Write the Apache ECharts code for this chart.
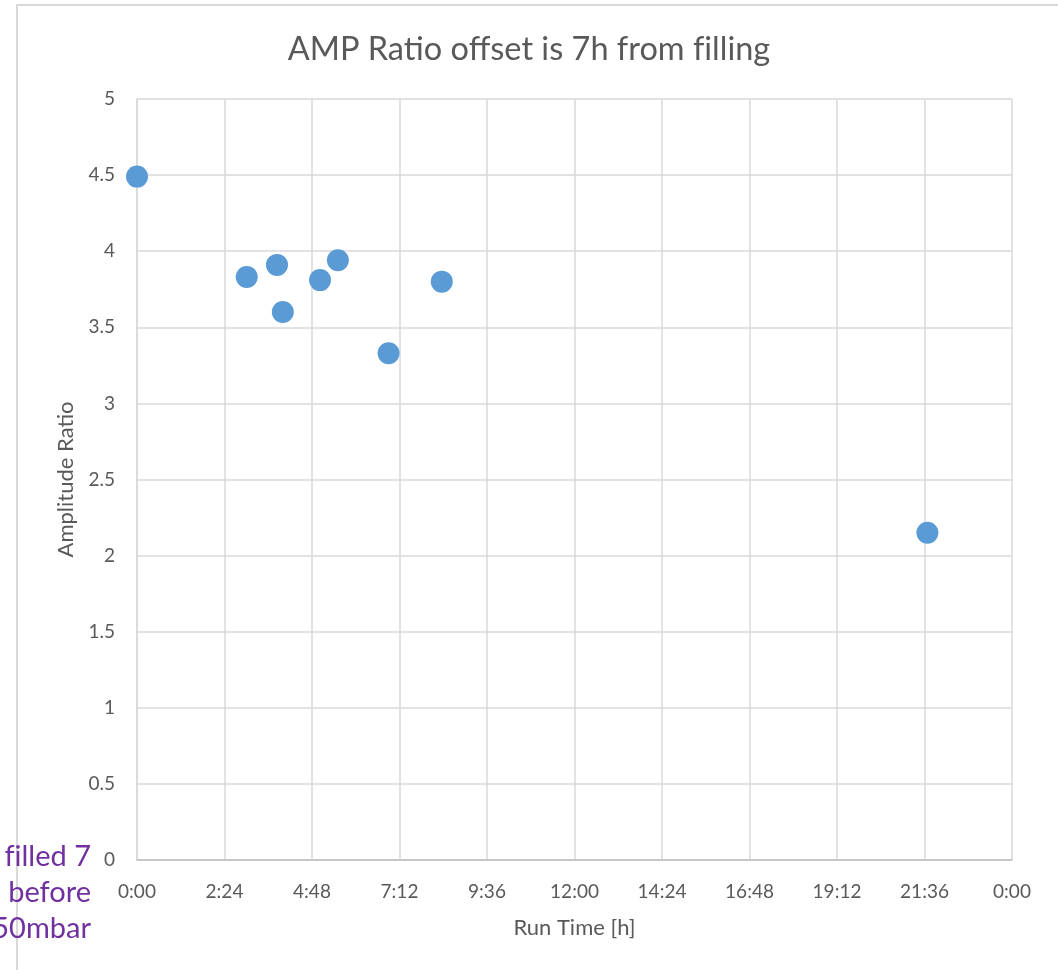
<!DOCTYPE html>
<html>
<head>
<meta charset="utf-8">
<script src="https://cdn.jsdelivr.net/npm/echarts@6/dist/echarts.min.js"></script>
<style>
html,body{margin:0;padding:0;background:#fff;}
#chart{width:1058px;height:970px;}
</style>
</head>
<body>
<div id="chart"></div>
<script>
// Run time in hours
const runTimeHours = [0, 3.01, 3.84, 4.0, 5.02, 5.51, 6.9, 8.36, 21.68];
const amplitudeRatio = [4.49, 3.83, 3.91, 3.60, 3.81, 3.94, 3.33, 3.80, 2.15];
const titleText = 'AMP Ratio offset is 7h from f\u200Cilling';
const xAxisName = 'Run Time [h]';
const yAxisName = 'Amplitude Ratio';
const noteLines = ['Gas f\u200Cilled 7', 'hours before', 'at 150mbar'];

const FONT = 'Lato, "Open Sans", sans-serif';
const chart = echarts.init(document.getElementById('chart'));

function fmtTime(v) {
  const mins = Math.round(v * 60) % (24 * 60);
  const hh = Math.floor(mins / 60);
  const mm = mins % 60;
  return hh + ':' + (mm < 10 ? '0' : '') + mm;
}

const noteGraphics = noteLines.map((line, i) => ({
  type: 'text',
  x: 91,
  y: 857 + i * 36,
  style: {
    text: line,
    align: 'right',
    verticalAlign: 'middle',
    fontFamily: FONT,
    fontSize: 29,
    fill: '#7030A0'
  }
}));

chart.setOption({
  backgroundColor: '#fff',
  animation: false,
  title: {
    text: titleText,
    left: 'center',
    top: 28,
    textStyle: { fontFamily: FONT, fontSize: 32.5, fontWeight: 'normal', color: '#595959' }
  },
  grid: { left: 137, right: 46, top: 99, bottom: 110 },
  xAxis: {
    type: 'value',
    min: 0, max: 24, interval: 2.4,
    name: xAxisName,
    nameLocation: 'middle',
    nameGap: 57,
    nameTextStyle: { fontFamily: FONT, fontSize: 22, color: '#595959' },
    axisLine: { show: true, lineStyle: { color: '#BFBFBF', width: 1.5 } },
    axisTick: { show: false },
    axisLabel: { fontFamily: FONT, fontSize: 19, color: '#595959', margin: 22, formatter: fmtTime },
    splitLine: { show: true, lineStyle: { color: '#D9D9D9', width: 1.5 } }
  },
  yAxis: {
    type: 'value',
    min: 0, max: 5, interval: 0.5,
    name: yAxisName,
    nameLocation: 'middle',
    nameGap: 60,
    nameTextStyle: { fontFamily: FONT, fontSize: 22, color: '#595959' },
    axisLine: { show: true, lineStyle: { color: '#D9D9D9', width: 1.5 } },
    axisTick: { show: false },
    axisLabel: { fontFamily: FONT, fontSize: 19, color: '#595959', margin: 22 },
    splitLine: { show: true, lineStyle: { color: '#D9D9D9', width: 1.5 } }
  },
  series: [{
    type: 'scatter',
    symbol: 'circle',
    symbolSize: 22,
    itemStyle: { color: '#5B9BD5', opacity: 1 },
    data: runTimeHours.map((t, i) => [t, amplitudeRatio[i]])
  }],
  graphic: [
    {
      type: 'rect',
      shape: { x: 17, y: 5, width: 1100, height: 1100 },
      style: { fill: 'none', stroke: '#D9D9D9', lineWidth: 2 },
      z: -1
    }
  ].concat(noteGraphics)
});
</script>
</body>
</html>
